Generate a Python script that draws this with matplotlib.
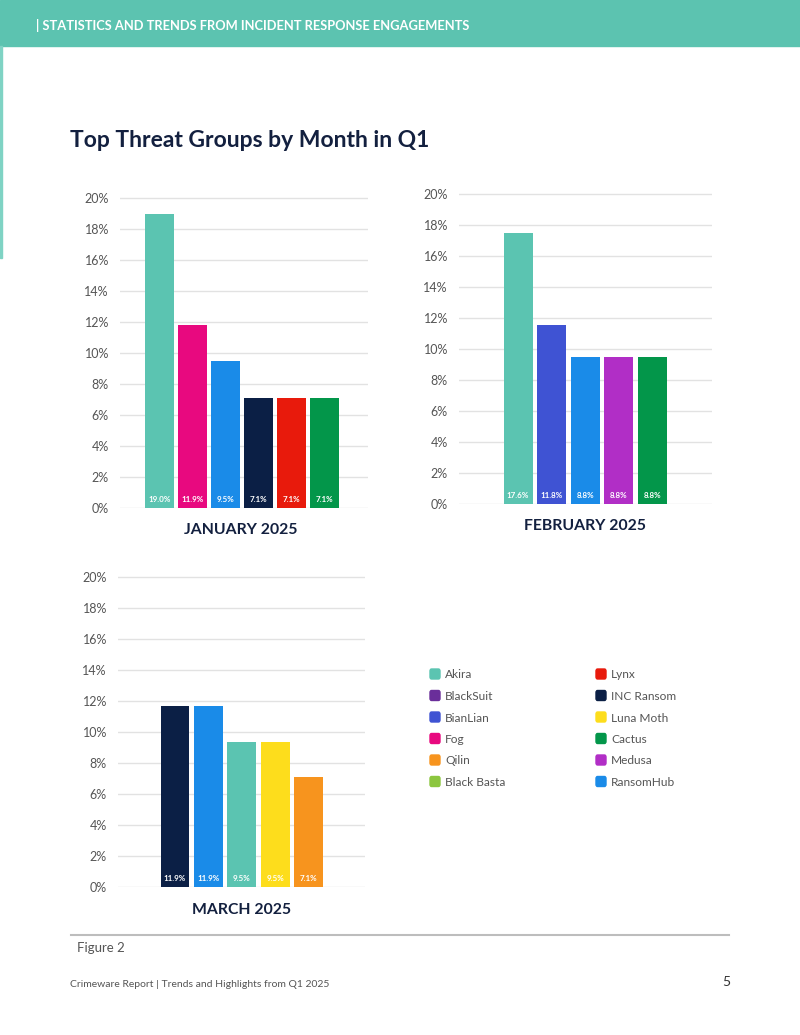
import matplotlib

matplotlib.use("Agg")
import matplotlib.pyplot as plt
from matplotlib.patches import Rectangle, FancyBboxPatch

plt.rcParams["font.family"] = ["Lato", "DejaVu Sans"]

W, H = 800, 1035

# data (bar heights in %, labels as printed on the bars)
jan_groups = ["Akira", "Fog", "RansomHub", "INC Ransom", "Lynx", "Cactus"]
jan_values = [19.0, 11.8, 9.5, 7.1, 7.1, 7.1]
jan_labels = ["19.0%", "11.9%", "9.5%", "7.1%", "7.1%", "7.1%"]

feb_groups = ["Akira", "BianLian", "RansomHub", "Medusa", "Cactus"]
feb_values = [17.5, 11.6, 9.5, 9.5, 9.5]
feb_labels = ["17.6%", "11.8%", "8.8%", "8.8%", "8.8%"]

mar_groups = ["INC Ransom", "RansomHub", "Akira", "Luna Moth", "Qilin"]
mar_values = [11.7, 11.7, 9.4, 9.4, 7.1]
mar_labels = ["11.9%", "11.9%", "9.5%", "9.5%", "7.1%"]

legend_names = ["Akira", "BlackSuit", "BianLian", "Fog", "Qilin", "Black Basta",
                "Lynx", "INC Ransom", "Luna Moth", "Cactus", "Medusa", "RansomHub"]

colors = {
    "Akira": "#5BC4B1",
    "BlackSuit": "#6A2E9A",
    "BianLian": "#3F53D3",
    "Fog": "#E8097F",
    "Qilin": "#F7941E",
    "Black Basta": "#8CC63F",
    "Lynx": "#E81A0C",
    "INC Ransom": "#0B1F45",
    "Luna Moth": "#FDDD1C",
    "Cactus": "#03964A",
    "Medusa": "#B12EC6",
    "RansomHub": "#1A8BE8",
}

ticks = [0, 2, 4, 6, 8, 10, 12, 14, 16, 18, 20]
NAVY = "#13203F"
GREY = "#555555"
PX_PER_PCT = 15.5
YTOP = 20.3

fig = plt.figure(figsize=(W / 100, H / 100), dpi=100)


def px(x, y):
    return x / W, 1 - y / H


def month_chart(left, right, base, xlim, groups, values, labels, title, title_xy):
    height = YTOP * PX_PER_PCT
    ax = fig.add_axes([left / W, 1 - base / H, (right - left) / W, height / H])
    x = range(len(groups))
    ax.bar(x, values, width=0.86, color=[colors[g] for g in groups], zorder=3)
    for i, lab in enumerate(labels):
        ax.text(i, 0.55, lab, ha="center", va="center", color="white",
                fontsize=5.8, fontweight="bold", zorder=4)
    ax.set_xlim(*xlim)
    ax.set_ylim(0, YTOP)
    ax.set_yticks(ticks)
    ax.set_yticklabels([f"{t}%" for t in ticks])
    ax.set_xticks([])
    ax.tick_params(axis="y", length=0, pad=8, labelsize=9, labelcolor=GREY)
    ax.yaxis.grid(True, color="#E2E2E2", lw=1)
    ax.set_axisbelow(True)
    for s in ax.spines.values():
        s.set_visible(False)
    fig.text(*px(*title_xy), title, ha="center", va="center",
             fontsize=11.3, fontweight="bold", color=NAVY)
    return ax


month_chart(120, 368, 508.3, (-1.2, 6.32), jan_groups, jan_values, jan_labels,
            "JANUARY 2025", (241, 530.5))
month_chart(459, 712, 504.3, (-1.76, 5.77), feb_groups, feb_values, feb_labels,
            "FEBRUARY 2025", (585.5, 526))
month_chart(118, 365, 887.3, (-1.71, 5.69), mar_groups, mar_values, mar_labels,
            "MARCH 2025", (241.3, 909.5))

# header band and left accent
fig.patches.append(Rectangle((0, 1 - 46 / H), 1, 46 / H, transform=fig.transFigure,
                             color="#5CC3B0", zorder=0))
fig.patches.append(Rectangle((0, 1 - 258 / H), 2 / W, (258 - 46) / H,
                             transform=fig.transFigure, color="#7FD3C4", zorder=0))
fig.text(*px(36, 25), "| STATISTICS AND TRENDS FROM INCIDENT RESPONSE ENGAGEMENTS",
         ha="left", va="center", fontsize=9.3, fontweight="bold", color="white")

fig.text(*px(70, 147), "Top Threat Groups by Month in Q1", ha="left", va="baseline",
         fontsize=16.5, fontweight="bold", color=NAVY)

# legend, two columns of six
for i, name in enumerate(legend_names):
    col, row = divmod(i, 6)
    sx = 430 + col * 166
    sy = 674 + row * 21.5
    fig.patches.append(FancyBboxPatch(px(sx, sy + 5), 10 / W, 10 / H,
                                      boxstyle="round,pad=0,rounding_size=0.002",
                                      transform=fig.transFigure,
                                      color=colors[name]))
    fig.text(*px(sx + 15, sy + 1), name, ha="left", va="center",
             fontsize=8.6, color=GREY)

# caption and footer
fig.add_artist(plt.Line2D([71 / W, 729 / W], [1 - 935 / H] * 2,
                          transform=fig.transFigure, color="#BDBDBD", lw=1.5))
fig.text(*px(77, 948), "Figure 2", ha="left", va="center", fontsize=9.5, color=GREY)
fig.text(*px(70, 984.5), "Crimeware Report | Trends and Highlights from Q1 2025",
         ha="left", va="center", fontsize=7.5, color=GREY)
fig.text(*px(730, 981.5), "5", ha="right", va="center", fontsize=10, color="#333333")

fig.savefig("out.png", dpi=100)
